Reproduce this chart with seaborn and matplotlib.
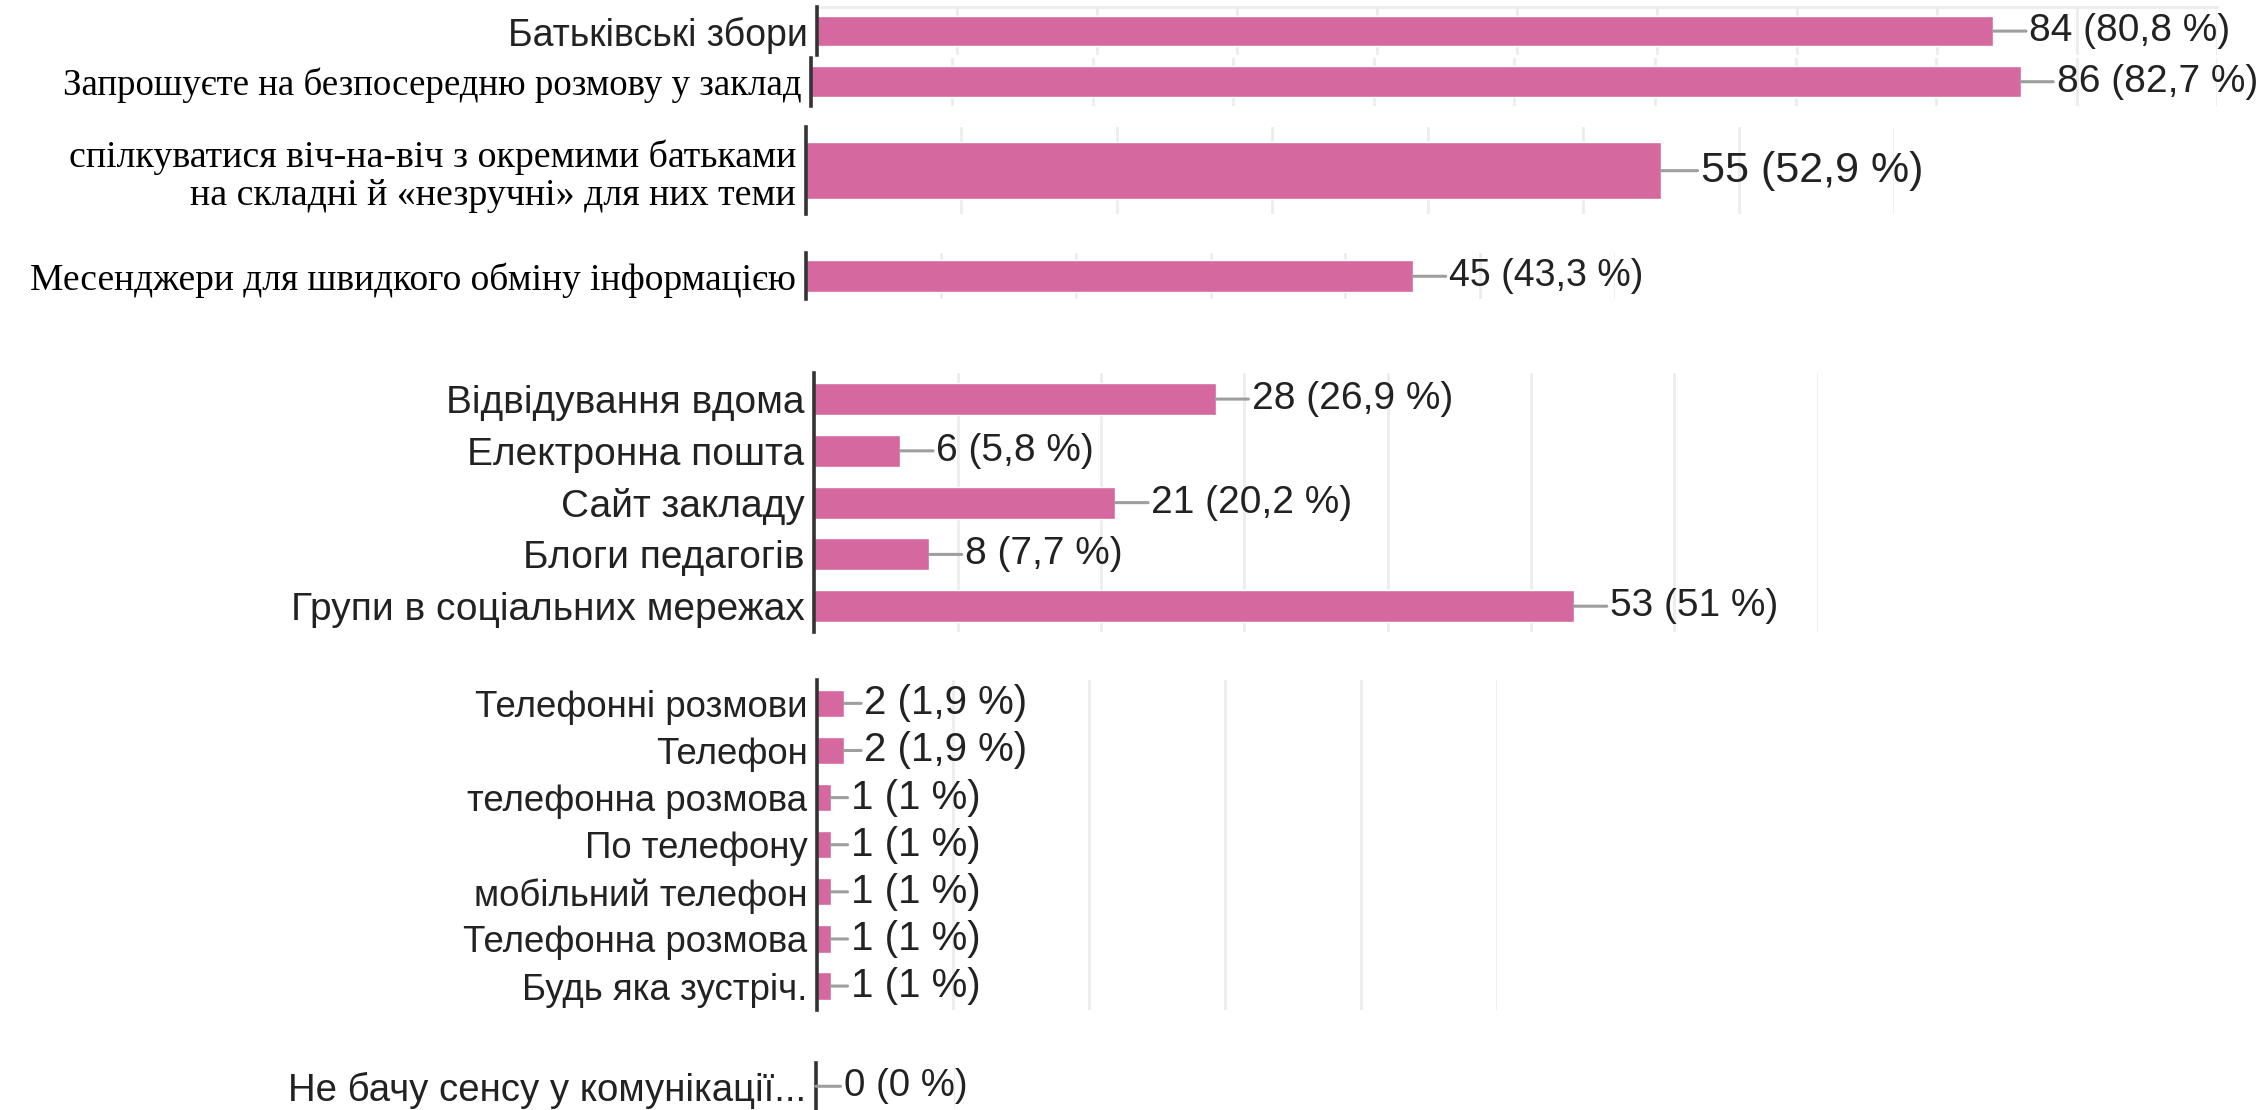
import matplotlib
matplotlib.use("Agg")
import matplotlib.pyplot as plt
import seaborn as sns
import pandas as pd

# ---------------- data ----------------
g1_cats = ["Батьківські збори"]
g1_vals = [84]
g1_pcts = ["80,8"]

g2_cats = ["Запрошуєте на безпосередню розмову у заклад"]
g2_vals = [86]
g2_pcts = ["82,7"]

g3_cats = ["спілкуватися віч-на-віч з окремими батьками\nна складні й «незручні» для них теми"]
g3_vals = [55]
g3_pcts = ["52,9"]

g4_cats = ["Месенджери для швидкого обміну інформацією"]
g4_vals = [45]
g4_pcts = ["43,3"]

g5_cats = ["Відвідування вдома", "Електронна пошта", "Сайт закладу",
           "Блоги педагогів", "Групи в соціальних мережах"]
g5_vals = [28, 6, 21, 8, 53]
g5_pcts = ["26,9", "5,8", "20,2", "7,7", "51"]

g6_cats = ["Телефонні розмови", "Телефон", "телефонна розмова", "По телефону",
           "мобільний телефон", "Телефонна розмова", "Будь яка зустріч."]
g6_vals = [2, 2, 1, 1, 1, 1, 1]
g6_pcts = ["1,9", "1,9", "1", "1", "1", "1", "1"]

g7_cats = ["Не бачу сенсу у комунікації..."]
g7_vals = [0]
g7_pcts = ["0"]

# ---------------- style ----------------
BAR = "#D5689E"
GRID = "#EDEDED"
AXIS = "#333333"
LINE = "#9E9E9E"
TXT = "#222222"
SANS = ["Liberation Sans", "DejaVu Sans"]
SERIF = ["Liberation Serif", "DejaVu Serif"]

W, H = 2268, 1110
S = W / 1568.0  # display -> full scale

sns.set_theme(style="white")
plt.rcParams["font.family"] = SANS

fig = plt.figure(figsize=(W / 100, H / 100), dpi=100)


def add_group(cats, vals, pcts, top, bottom, x0, ppu, xmax, bar_w,
              cat_family, cat_size, cat_color, val_size, conn_px,
              top_line=False):
    left = x0 * S / W
    width = xmax * ppu * S / W
    b = 1 - bottom * S / H
    h = (bottom - top) * S / H
    ax = fig.add_axes([left, b, width, h])
    df = pd.DataFrame({"cat": cats, "val": vals})
    sns.barplot(data=df, x="val", y="cat", orient="h", color=BAR,
                saturation=1, width=bar_w, ax=ax, zorder=2)
    ax.set_xlim(0, xmax)
    ax.set_xticks(list(range(10, xmax + 1, 10)))
    ax.set_xticklabels([])
    ax.grid(axis="x", color=GRID, lw=2, zorder=0)
    ax.grid(axis="y", visible=False)
    ax.set_axisbelow(True)
    ax.set_xlabel("")
    ax.set_ylabel("")
    for sp in ["right", "bottom"]:
        ax.spines[sp].set_visible(False)
    ax.spines["top"].set_visible(top_line)
    ax.spines["top"].set_color(GRID)
    ax.spines["top"].set_linewidth(2)
    ax.spines["left"].set_color(AXIS)
    ax.spines["left"].set_linewidth(2.6)
    ax.spines["left"].set_zorder(5)
    ax.tick_params(axis="both", length=0)
    ax.tick_params(axis="y", pad=7, labelsize=cat_size, labelcolor=cat_color)
    for lab in ax.get_yticklabels():
        lab.set_fontfamily(cat_family)
        lab.set_linespacing(1.12)
    for i, (v, p) in enumerate(zip(vals, pcts)):
        ax.annotate(f"{v} ({p} %)", xy=(v, i), xytext=(conn_px, 0),
                    textcoords="offset pixels", ha="left", va="center",
                    fontsize=val_size, color=TXT, family=SANS,
                    annotation_clip=False, zorder=6,
                    arrowprops=dict(arrowstyle="-", color=LINE, lw=2.2,
                                    shrinkA=0, shrinkB=0, relpos=(0, 0.5)))
    return ax


add_group(g1_cats, g1_vals, g1_pcts, 5, 38, 565, 9.68, 100, 0.64,
          SANS, 27, TXT, 28, 36, top_line=True)
add_group(g2_cats, g2_vals, g2_pcts, 40, 73, 561, 9.72, 100, 0.64,
          SERIF, 26.6, "#000000", 28, 36)
add_group(g3_cats, g3_vals, g3_pcts, 88, 148, 557, 10.75, 70, 0.65,
          SERIF, 27.3, "#000000", 31, 40)
add_group(g4_cats, g4_vals, g4_pcts, 175, 207, 557, 9.33, 60, 0.69,
          SERIF, 27, "#000000", 27, 36)
add_group(g5_cats, g5_vals, g5_pcts, 258, 437, 563, 9.91, 70, 0.62,
          SANS, 28, TXT, 28, 36)
add_group(g6_cats, g6_vals, g6_pcts, 470, 698, 565, 9.4, 50, 0.58,
          SANS, 26.4, TXT, 29, 20)
add_group(g7_cats, g7_vals, g7_pcts, 735, 767, 564, 9.6, 10, 0.6,
          SANS, 27.6, TXT, 27.6, 28)

fig.savefig("out.png", dpi=100)
